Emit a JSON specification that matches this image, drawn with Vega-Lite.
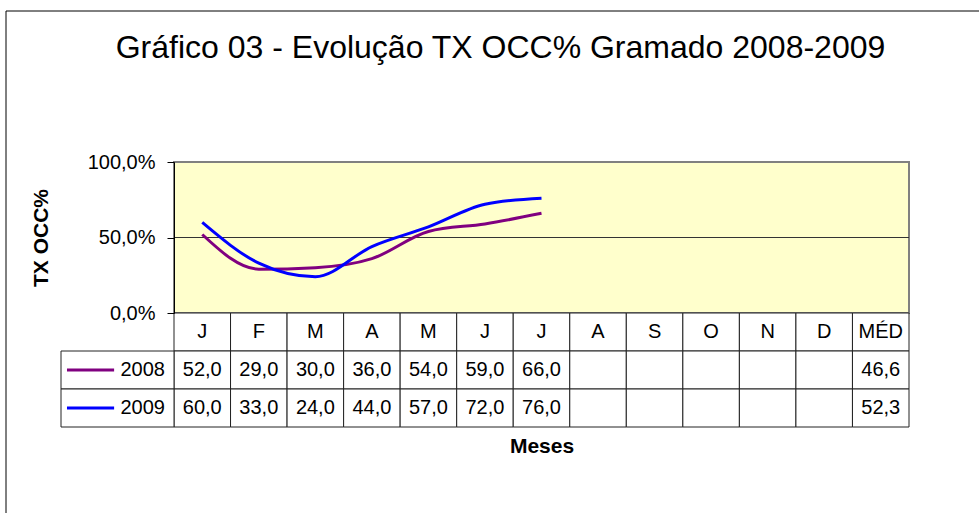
{
  "$schema": "https://vega.github.io/schema/vega-lite/v6.json",
  "width": 735,
  "height": 265,
  "autosize": {"type": "none"},
  "padding": {"left": 174, "top": 162, "right": 70, "bottom": 86},
  "background": "white",
  "config": {
    "view": {"stroke": null},
    "font": "Liberation Sans",
    "locale": {"number": {"decimal": ",", "thousands": ".", "grouping": [3], "currency": ["R$", ""]}}
  },
  "title": {
    "text": "Gráfico 03 - Evolução TX OCC% Gramado 2008-2009",
    "font": "Liberation Sans",
    "fontSize": 32,
    "fontWeight": "normal",
    "color": "black",
    "anchor": "middle",
    "baseline": "alphabetic",
    "dx": -41,
    "dy": 79,
    "offset": 0
  },
  "datasets": {
    "valores": [
      {"m": "01", "serie": "2008", "valor": 52.0},
      {"m": "02", "serie": "2008", "valor": 29.0},
      {"m": "03", "serie": "2008", "valor": 30.0},
      {"m": "04", "serie": "2008", "valor": 36.0},
      {"m": "05", "serie": "2008", "valor": 54.0},
      {"m": "06", "serie": "2008", "valor": 59.0},
      {"m": "07", "serie": "2008", "valor": 66.0},
      {"m": "13", "serie": "2008", "valor": 46.6},
      {"m": "01", "serie": "2009", "valor": 60.0},
      {"m": "02", "serie": "2009", "valor": 33.0},
      {"m": "03", "serie": "2009", "valor": 24.0},
      {"m": "04", "serie": "2009", "valor": 44.0},
      {"m": "05", "serie": "2009", "valor": 57.0},
      {"m": "06", "serie": "2009", "valor": 72.0},
      {"m": "07", "serie": "2009", "valor": 76.0},
      {"m": "13", "serie": "2009", "valor": 52.3}
    ],
    "meses": [
      {"m": "01", "rot": "J"}, {"m": "02", "rot": "F"}, {"m": "03", "rot": "M"},
      {"m": "04", "rot": "A"}, {"m": "05", "rot": "M"}, {"m": "06", "rot": "J"},
      {"m": "07", "rot": "J"}, {"m": "08", "rot": "A"}, {"m": "09", "rot": "S"},
      {"m": "10", "rot": "O"}, {"m": "11", "rot": "N"}, {"m": "12", "rot": "D"},
      {"m": "13", "rot": "MÉD"}
    ]
  },
  "layer": [
    {
      "layer": [
        {
          "layer": [
            {
              "data": {"values": [{}]},
              "mark": {"type": "rect", "fill": "#FFFFCC", "stroke": "#808080", "strokeWidth": 2},
              "encoding": {
                "y": {
                  "datum": 0,
                  "type": "quantitative",
                  "scale": {"domain": [0, 100], "range": [151, 0], "nice": false, "zero": false},
                  "axis": {
                    "values": [0, 50, 100],
                    "labelExpr": "replace(format(datum.value, '.1f'), '.', ',') + '%'",
                    "grid": false,
                    "zindex": 1,
                    "domainColor": "black",
                    "domainWidth": 1,
                    "tickColor": "black",
                    "tickSize": 7,
                    "labelPadding": 12,
                    "labelFont": "Liberation Sans",
                    "labelFontSize": 20,
                    "labelColor": "black",
                    "title": "TX OCC%",
                    "titleFont": "Liberation Sans",
                    "titleFontSize": 21,
                    "titleFontWeight": "bold",
                    "titleColor": "black",
                    "titlePadding": 36
                  }
                },
                "y2": {"datum": 100}
              }
            },
            {
              "data": {"values": [{}]},
              "mark": {"type": "rule", "color": "#333333", "strokeWidth": 1},
              "encoding": {"y": {"datum": 50, "type": "quantitative"}}
            },
            {
              "data": {"name": "valores"},
              "transform": [{"filter": "datum.m != '13'"}],
              "mark": {"type": "line", "strokeWidth": 3, "interpolate": "monotone"},
              "encoding": {
                "x": {
                  "field": "m",
                  "type": "nominal",
                  "scale": {
                    "type": "band",
                    "domain": ["01", "02", "03", "04", "05", "06", "07", "08", "09", "10", "11", "12", "13"],
                    "paddingInner": 0,
                    "paddingOuter": 0
                  },
                  "axis": {
                    "title": "Meses",
                    "labels": false,
                    "ticks": false,
                    "domain": false,
                    "grid": false,
                    "orient": "bottom",
                    "titleFont": "Liberation Sans",
                    "titleFontSize": 21,
                    "titleFontWeight": "bold",
                    "titleColor": "black",
                    "titlePadding": 8
                  }
                },
                "y": {"field": "valor", "type": "quantitative"},
                "color": {
                  "field": "serie",
                  "type": "nominal",
                  "scale": {"domain": ["2008", "2009"], "range": ["#800080", "#0000FF"]},
                  "legend": null
                }
              }
            }
          ]
        },
        {
          "layer": [
            {
              "data": {"name": "meses"},
              "mark": {"type": "rect", "fill": "white", "stroke": "#222222", "strokeWidth": 1},
              "encoding": {
                "x": {"field": "m", "type": "nominal", "scale": {"type": "band"}},
                "y": {
                  "datum": "h",
                  "type": "nominal",
                  "scale": {"type": "band", "domain": ["h", "2008", "2009"], "range": [151, 265], "paddingInner": 0, "paddingOuter": 0},
                  "axis": null
                }
              }
            },
            {
              "data": {"name": "meses"},
              "mark": {"type": "rect", "fill": "white", "stroke": "#222222", "strokeWidth": 1},
              "encoding": {
                "x": {"field": "m", "type": "nominal", "scale": {"type": "band"}},
                "y": {"datum": "2008", "type": "nominal"}
              }
            },
            {
              "data": {"name": "meses"},
              "mark": {"type": "rect", "fill": "white", "stroke": "#222222", "strokeWidth": 1},
              "encoding": {
                "x": {"field": "m", "type": "nominal", "scale": {"type": "band"}},
                "y": {"datum": "2009", "type": "nominal"}
              }
            },
            {
              "data": {"name": "meses"},
              "mark": {"type": "text", "font": "Liberation Sans", "fontSize": 20, "color": "black", "align": "center", "baseline": "middle"},
              "encoding": {
                "x": {"field": "m", "type": "nominal", "scale": {"type": "band"}},
                "y": {"datum": "h", "type": "nominal"},
                "text": {"field": "rot"}
              }
            },
            {
              "data": {"name": "valores"},
              "mark": {"type": "text", "font": "Liberation Sans", "fontSize": 20, "color": "black", "align": "center", "baseline": "middle"},
              "encoding": {
                "x": {"field": "m", "type": "nominal", "scale": {"type": "band"}},
                "y": {"field": "serie", "type": "nominal"},
                "text": {"field": "valor", "type": "quantitative", "format": ".1f"}
              }
            }
          ]
        }
      ],
      "resolve": {"scale": {"y": "independent"}, "axis": {"y": "independent"}}
    },
    {
      "data": {"name": "valores"},
      "transform": [{"filter": "datum.m == '13'"}],
      "layer": [
        {
          "mark": {"type": "rect", "fill": "white", "stroke": "#222222", "strokeWidth": 1},
          "encoding": {
            "x": {"datum": 0, "type": "quantitative", "scale": {"domain": [0, 1], "range": [-113, 0], "nice": false, "zero": false}, "axis": null},
            "x2": {"datum": 1},
            "y": {
              "field": "serie",
              "type": "nominal",
              "scale": {"type": "band", "domain": ["h", "2008", "2009"], "range": [151, 265], "paddingInner": 0, "paddingOuter": 0},
              "axis": null
            }
          }
        },
        {
          "mark": {"type": "rule", "strokeWidth": 3},
          "encoding": {
            "x": {"datum": 0.053, "type": "quantitative"},
            "x2": {"datum": 0.47},
            "y": {"field": "serie", "type": "nominal"},
            "color": {"field": "serie", "type": "nominal"}
          }
        },
        {
          "mark": {"type": "text", "font": "Liberation Sans", "fontSize": 20, "color": "black", "align": "right", "baseline": "middle"},
          "encoding": {
            "x": {"datum": 0.92, "type": "quantitative"},
            "y": {"field": "serie", "type": "nominal"},
            "text": {"field": "serie"}
          }
        }
      ]
    },
    {
      "data": {"values": [{}]},
      "mark": {"type": "rect", "fill": "transparent", "stroke": "black", "strokeWidth": 1},
      "encoding": {
        "x": {"datum": 0, "type": "quantitative", "scale": {"domain": [0, 1], "range": [-168, 900], "nice": false, "zero": false}, "axis": null},
        "x2": {"datum": 1},
        "y": {"datum": 0, "type": "quantitative", "scale": {"domain": [0, 1], "range": [-151, 400], "nice": false, "zero": false}, "axis": null},
        "y2": {"datum": 1}
      }
    }
  ],
  "resolve": {"scale": {"x": "independent", "y": "independent"}, "axis": {"x": "independent", "y": "independent"}}
}
